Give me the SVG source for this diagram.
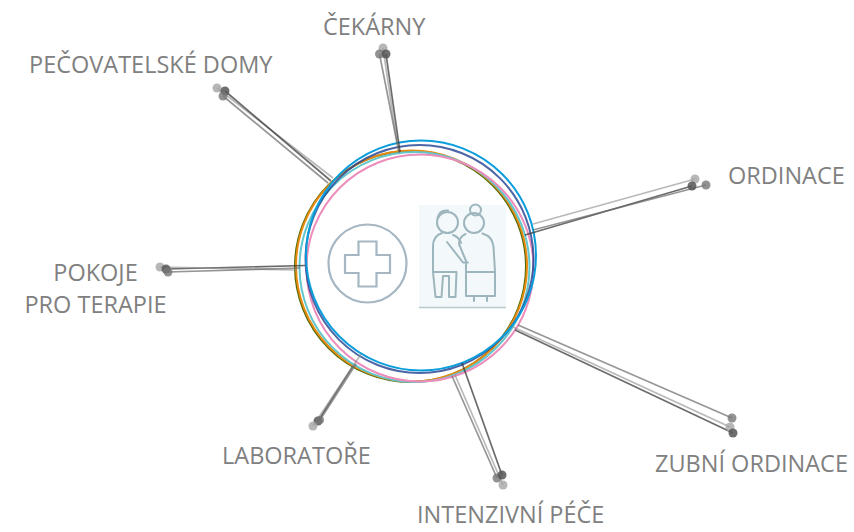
<svg xmlns="http://www.w3.org/2000/svg" width="854" height="532" viewBox="0 0 854 532">
<style>
.lbl{font-family:"Open Sans","Liberation Sans",sans-serif;font-size:23.5px;fill:#808080}
.ring{fill:none;stroke-width:2}
.ld{stroke:#3a3a3a;stroke-opacity:.75;stroke-width:1.7;fill:none}
.lm{stroke:#6a6a6a;stroke-opacity:.7;stroke-width:1.7;fill:none}
.ll{stroke:#8a8a8a;stroke-opacity:.6;stroke-width:1.7;fill:none}
.dd{fill:#555;fill-opacity:.85}
.dm{fill:#777;fill-opacity:.8}
.dl{fill:#a5a5a5;fill-opacity:.8}
.ic{fill:none;stroke:#a6b7c3;stroke-width:2.2}
.pp{fill:none;stroke:#9db6bd;stroke-width:2;stroke-linecap:round;stroke-linejoin:round}
</style>
<rect width="854" height="532" fill="#fff"/>

<g id="rings">
<circle class="ring" cx="410.5" cy="266.5" r="115.5" stroke="#4f6a05"/>
<circle class="ring" cx="411.5" cy="266" r="115.5" stroke="#e88a10"/>
<circle class="ring" cx="414.5" cy="267" r="115" stroke="#62c6cc"/>
<circle class="ring" cx="420" cy="268" r="113.5" stroke="#ec8dbb"/>
<circle class="ring" cx="419.5" cy="259" r="114" stroke="#1f3f8f" stroke-opacity=".8"/>
<circle class="ring" cx="421" cy="255.5" r="115" stroke="#0a9ddc"/>
</g>

<g id="connectors">
<line class="ll" x1="333" y1="178" x2="217" y2="88"/>
<line class="ld" x1="331" y1="181" x2="225" y2="91"/>
<line class="lm" x1="328" y1="183" x2="223" y2="96"/>

<line class="ll" x1="397" y1="142" x2="383" y2="48"/>
<line class="lm" x1="399" y1="153" x2="379.5" y2="54"/>
<line class="ld" x1="400" y1="152" x2="386" y2="54"/>

<line class="ll" x1="533" y1="224" x2="695" y2="179"/>
<line class="ld" x1="525" y1="235" x2="692" y2="186"/>
<line class="lm" x1="533" y1="230" x2="706" y2="185"/>

<line class="lm" x1="518" y1="325" x2="732" y2="418"/>
<line class="ll" x1="513" y1="327" x2="730" y2="427"/>
<line class="ld" x1="515" y1="330" x2="733" y2="433"/>

<line class="lm" x1="452" y1="376" x2="497" y2="478"/>
<line class="ld" x1="462" y1="363" x2="502" y2="475"/>
<line class="ll" x1="455" y1="375" x2="503" y2="485"/>

<line class="ld" x1="353" y1="366" x2="318" y2="421"/>
<line class="ll" x1="361" y1="354" x2="313" y2="426"/>
<line class="lm" x1="356" y1="364" x2="320" y2="420"/>

<line class="ld" x1="305" y1="265.5" x2="166" y2="269"/>
<line class="ll" x1="297" y1="270" x2="160" y2="267"/>
<line class="lm" x1="300" y1="268" x2="168" y2="272"/>
</g>

<g id="dots">
<circle class="dl" cx="217" cy="88" r="4.5"/><circle class="dd" cx="225" cy="91" r="4.5"/><circle class="dm" cx="223" cy="96" r="4.5"/>
<circle class="dl" cx="383" cy="48" r="4.5"/><circle class="dm" cx="379.5" cy="54" r="4.5"/><circle class="dd" cx="386" cy="54" r="4.5"/>
<circle class="dl" cx="695" cy="179" r="4.5"/><circle class="dd" cx="692" cy="186" r="4.5"/><circle class="dm" cx="706" cy="185" r="4.5"/>
<circle class="dm" cx="732" cy="418" r="4.5"/><circle class="dl" cx="730" cy="427" r="4.5"/><circle class="dd" cx="733" cy="433" r="4.5"/>
<circle class="dm" cx="497" cy="478" r="4.5"/><circle class="dd" cx="502" cy="475" r="4.5"/><circle class="dl" cx="503" cy="485" r="4.5"/>
<circle class="dd" cx="318" cy="421" r="4.5"/><circle class="dl" cx="313" cy="426" r="4.5"/><circle class="dm" cx="320" cy="420" r="4"/>
<circle class="dl" cx="160" cy="267" r="4.5"/><circle class="dd" cx="166" cy="269" r="4.5"/><circle class="dm" cx="168" cy="272" r="4.5"/>
</g>

<g id="icon-cross">
<circle class="ic" cx="367.5" cy="263.5" r="39"/>
<path class="ic" d="M358.5,241.5 h18 v13.5 h13.5 v18 h-13.5 v13.5 h-18 v-13.5 h-13.5 v-18 h13.5 z"/>
</g>

<g id="icon-people">
<rect x="419" y="205" width="87" height="103" fill="#f3f8fa"/>
<line x1="419" y1="307.5" x2="506" y2="307.5" stroke="#b8c8cc" stroke-width="1.5"/>
<circle class="pp" cx="447.5" cy="222.5" r="10.5"/>
<path class="pp" d="M437.5,218 q2,-8.5 10.5,-7.5"/>
<path class="pp" d="M442,233 q-9,3 -9,13 v26 h23"/>
<path class="pp" d="M433,272 l2.5,25 h6 l1.5,-21 h6 v21 h6.5 l1,-25"/>
<path class="pp" d="M447,242 l16,20.5 h5"/>
<path class="pp" d="M453,235 q6,2 8,8"/>
<circle class="pp" cx="474" cy="223" r="10"/>
<circle class="pp" cx="475.5" cy="210" r="5.5"/>
<path class="pp" d="M465.5,234 q-6.5,3 -6.5,10 l7,17"/>
<path class="pp" d="M482.5,233.5 q10,3 11,13 l1.5,25.5"/>
<rect class="pp" x="466" y="272" width="29" height="24"/>
<path class="pp" d="M474,296 v5 M487,296 v5"/>
<path class="pp" d="M466,261 v11"/>
</g>

<g id="labels">
<text class="lbl" x="323" y="35">ČEKÁRNY</text>
<text class="lbl" x="29" y="73">PEČOVATELSKÉ DOMY</text>
<text class="lbl" x="728" y="184">ORDINACE</text>
<text class="lbl" x="95.5" y="281" text-anchor="middle">POKOJE</text>
<text class="lbl" x="95.5" y="313" text-anchor="middle">PRO TERAPIE</text>
<text class="lbl" x="222" y="464">LABORATOŘE</text>
<text class="lbl" x="655" y="472">ZUBNÍ ORDINACE</text>
<text class="lbl" x="417" y="523">INTENZIVNÍ PÉČE</text>
</g>
</svg>
